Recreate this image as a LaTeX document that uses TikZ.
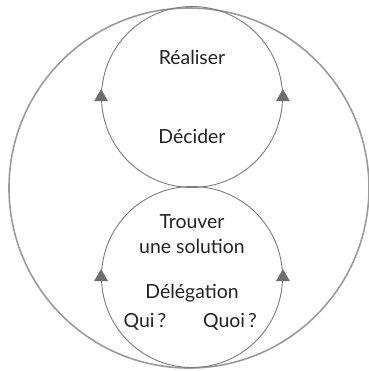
\documentclass[tikz,border=0pt]{standalone}
\usepackage{fontspec}
\setmainfont{Lato}
\usetikzlibrary{shapes.geometric}
\definecolor{ringgray}{HTML}{9A9A9A}
\definecolor{loopgray}{HTML}{7A7A7A}
\definecolor{tipgray}{HTML}{6E6E6E}
\definecolor{txtgray}{HTML}{222222}
\begin{document}
\begin{tikzpicture}[
  x=1bp, y=-1bp,
  ring/.style={circle, draw=ringgray, line width=1.6bp, minimum size=360bp, inner sep=0pt},
  loop/.style={circle, draw=loopgray, line width=0.9bp, minimum size=181bp, inner sep=0pt},
  tip/.style={regular polygon, regular polygon sides=3, fill=tipgray, minimum size=16bp, inner sep=0pt},
  lbl/.style={font=\fontsize{19.5}{22}\selectfont, text=txtgray, inner sep=1pt},
]
\useasboundingbox (0,0) rectangle (369,371);
\node[ring] (cycle) at (189,188) {};
\node[loop] (upper) at (192,97)  {};
\node[loop] (lower) at (192,277) {};
\node[tip] (ul) at (upper.west) {};
\node[tip] (ur) at (upper.east) {};
\node[tip] (ll) at (lower.west) {};
\node[tip] (lr) at (lower.east) {};
\node[lbl] (realiser) at (192,57)  {Réaliser};
\node[lbl] (decider)  at (192,136) {Décider};
\node[lbl] (trouver)  at (192,222) {Trouver};
\node[lbl] (solution) at (192,246) {une solution};
\node[lbl] (delegation) at (192,293) {Délégation};
\node[lbl] (qui)  at (145,322) {Qui\,?};
\node[lbl] (quoi) at (230,322) {Quoi\,?};
\end{tikzpicture}
\end{document}
